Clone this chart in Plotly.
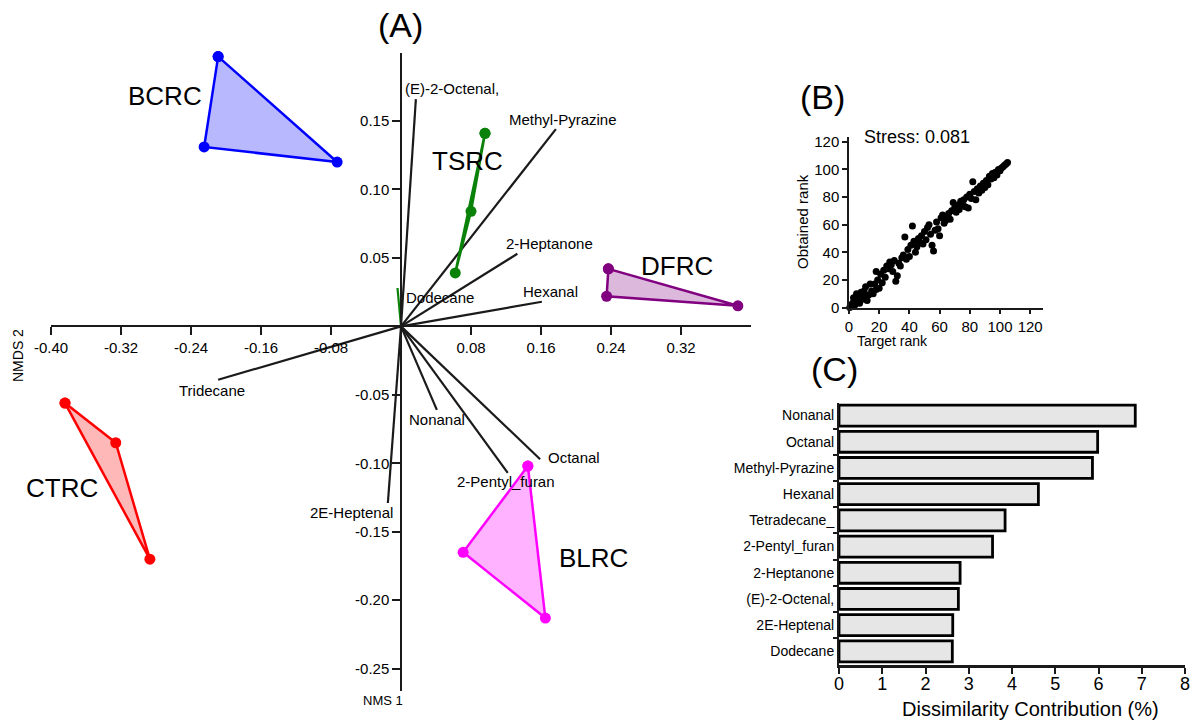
import plotly.graph_objects as go

W, H = 1193, 721
FONT = "Arial, Liberation Sans, sans-serif"
INK = "#1a1a1a"

# ---------------- (A) NMDS ordination ----------------
bcrc_x = [-0.209, -0.225, -0.073]
bcrc_y = [0.197, 0.131, 0.120]
tsrc_x = [0.096, 0.080, 0.062]
tsrc_y = [0.141, 0.084, 0.039]
dfrc_x = [0.237, 0.235, 0.385]
dfrc_y = [0.042, 0.022, 0.015]
ctrc_x = [-0.384, -0.326, -0.287]
ctrc_y = [-0.056, -0.085, -0.170]
blrc_x = [0.145, 0.071, 0.165]
blrc_y = [-0.102, -0.165, -0.213]

# volatile compound vectors (biplot arrows)
vec_names = ["(E)-2-Octenal,", "Methyl-Pyrazine", "2-Heptanone", "Hexanal", "Dodecane",
             "Tridecane", "Nonanal", "2-Pentyl_furan", "Octanal", "2E-Heptenal"]
vec_x = [0.017, 0.177, 0.133, 0.161, -0.004, -0.209, 0.041, 0.122, 0.159, -0.015]
vec_y = [0.166, 0.144, 0.053, 0.018, 0.028, -0.039, -0.061, -0.107, -0.097, -0.129]

x_ticks_a = [-0.40, -0.32, -0.24, -0.16, -0.08, 0.08, 0.16, 0.24, 0.32]
y_ticks_a = [0.15, 0.10, 0.05, -0.05, -0.10, -0.15, -0.20, -0.25]

# ---------------- (B) Shepard diagram ----------------
target_rank = [0.5, 1, 2, 3, 3, 4, 5, 6, 6, 7, 8, 9, 10, 10, 11, 12, 13, 14, 15, 16,
               17, 18, 18, 19, 20, 21, 22, 23, 24, 25, 26, 27, 28, 29, 30, 31, 32, 33, 34, 35,
               36, 37, 38, 39, 40, 41, 42, 43, 44, 45, 46, 47, 48, 49, 50, 51, 52, 53, 54, 55,
               56, 57, 58, 59, 60, 61, 62, 63, 64, 65, 66, 67, 68, 69, 70, 71, 72, 73, 74, 75,
               76, 77, 78, 79, 80, 81, 82, 83, 84, 85, 86, 87, 88, 89, 90, 91, 92, 93, 94, 95,
               96, 97, 98, 99, 100, 101, 102, 103, 104, 105]
obtained_rank = [0, 2, 1, 4, 7, 2, 10, 5, 8, 3, 11, 6, 12, 8, 15, 5, 9, 17, 12, 10,
                 17, 26, 13, 20, 14, 24, 18, 27, 22, 30, 28, 33, 31, 26, 34, 19, 23, 32, 30, 36,
                 38, 51, 35, 42, 37, 45, 59, 48, 40, 44, 50, 47, 52, 46, 55, 49, 58, 60, 53, 45,
                 41, 56, 62, 57, 52, 65, 67, 61, 63, 66, 68, 64, 70, 76, 72, 69, 74, 71, 77, 75,
                 78, 73, 80, 72, 82, 79, 91, 84, 78, 86, 83, 88, 85, 90, 87, 92, 89, 95, 93, 97,
                 94, 98, 96, 100, 99, 101, 102, 103, 104, 105]
b_ticks = [0, 20, 40, 60, 80, 100, 120]
stress = 0.081

# ---------------- (C) SIMPER contributions ----------------
compounds = ["Nonanal", "Octanal", "Methyl-Pyrazine", "Hexanal", "Tetradecane_",
             "2-Pentyl_furan", "2-Heptanone", "(E)-2-Octenal,", "2E-Heptenal", "Dodecane"]
contribution = [6.85, 5.98, 5.86, 4.61, 3.84, 3.55, 2.80, 2.76, 2.63, 2.62]
c_ticks = [0, 1, 2, 3, 4, 5, 6, 7, 8]


def fx(p):
    return p / W


def fy(p):
    return 1 - p / H


# group styling: outline colour, fill colour, label placement
group_style = [
    ("BCRC", bcrc_x, bcrc_y, "#0000ff", "rgba(0,0,255,0.28)", (-0.270, 0.168)),
    ("TSRC", tsrc_x, tsrc_y, "#0a820a", "rgba(10,130,10,0.25)", (0.076, 0.121)),
    ("DFRC", dfrc_x, dfrc_y, "#800080", "rgba(128,0,128,0.28)", (0.315, 0.044)),
    ("CTRC", ctrc_x, ctrc_y, "#ff0000", "rgba(255,0,0,0.28)", (-0.387, -0.118)),
    ("BLRC", blrc_x, blrc_y, "#ff00ff", "rgba(255,0,255,0.30)", (0.220, -0.169)),
]

# vector label placement: (xanchor, xshift px, yshift px)
vec_label_style = [
    ("left", -13, 11), ("center", 7, 10), ("center", 32, 10), ("center", 9, 10),
    ("left", 6, -9), ("center", -6, -11), ("center", 0, -10), ("center", -2, -9),
    ("left", 6, 2), ("right", 7, -9),
]
vec_colors = [INK, INK, INK, INK, "#0a820a", INK, INK, INK, INK, INK]

fig = go.Figure()

for name, vx, vy, col in zip(vec_names, vec_x, vec_y, vec_colors):
    fig.add_trace(go.Scatter(x=[0, vx], y=[0, vy], mode="lines",
                             line=dict(color=col, width=2.2),
                             hoverinfo="skip", xaxis="x", yaxis="y", cliponaxis=False))

for name, gx, gy, col, fill, _ in group_style:
    fig.add_trace(go.Scatter(x=gx + gx[:1], y=gy + gy[:1], mode="lines+markers",
                             fill="toself", fillcolor=fill,
                             line=dict(color=col, width=2.5),
                             marker=dict(color=col, size=11),
                             name=name, xaxis="x", yaxis="y", cliponaxis=False))

fig.add_trace(go.Scatter(x=target_rank, y=obtained_rank, mode="markers",
                         marker=dict(color="black", size=7),
                         xaxis="x2", yaxis="y2", cliponaxis=False))

fig.add_trace(go.Bar(x=contribution, y=compounds, orientation="h", width=0.8,
                     marker=dict(color="#e6e6e6", line=dict(color="black", width=2.8)),
                     xaxis="x3", yaxis="y3"))

# panel A geometry: axes cross at the origin
xdomA = [fx(51), fx(751)]
ydomA = [fy(690.6), fy(52.5)]
xrA = [-0.40, 0.40]
yrA = [-0.266, 0.20]
x_axis_pos = ydomA[0] + (0 - yrA[0]) / (yrA[1] - yrA[0]) * (ydomA[1] - ydomA[0])
y_axis_pos = xdomA[0] + (0 - xrA[0]) / (xrA[1] - xrA[0]) * (xdomA[1] - xdomA[0])

axis_common = dict(showgrid=False, zeroline=False, showline=True, automargin=False,
                   linecolor=INK, tickcolor=INK, ticks="outside")

annotations = []
for name, (xa, xs, ys), vx, vy in zip(vec_names, vec_label_style, vec_x, vec_y):
    annotations.append(dict(x=vx, y=vy, xref="x", yref="y", text=name, showarrow=False,
                            xanchor=xa, yanchor="middle", xshift=xs, yshift=ys,
                            font=dict(size=15, color="black", family=FONT)))
for name, gx, gy, col, fill, (lx, ly) in group_style:
    annotations.append(dict(x=lx, y=ly, xref="x", yref="y", text=name, showarrow=False,
                            xanchor="center", yanchor="middle",
                            font=dict(size=26, color="black", family=FONT)))


def paper_text(px, py, text, size, angle=0):
    return dict(x=fx(px), y=fy(py), xref="paper", yref="paper", text=text,
                showarrow=False, xanchor="center", yanchor="middle", textangle=angle,
                font=dict(size=size, color="black", family=FONT))


annotations += [
    paper_text(400, 25, "(A)", 34),
    paper_text(822, 97, "(B)", 34),
    paper_text(834, 369, "(C)", 34),
    paper_text(18, 356, "NMDS 2", 14, -90),
    paper_text(383, 700, "NMS 1", 13),
    paper_text(917, 137, f"Stress: {stress}", 18),
    paper_text(803, 222, "Obtained rank", 15, -90),
    paper_text(893, 341, "Target rank", 14),
    paper_text(1030, 709, "Dissimilarity Contribution (%)", 20),
]

fig.update_layout(
    width=W, height=H, margin=dict(l=0, r=0, t=0, b=0, autoexpand=False),
    paper_bgcolor="white", plot_bgcolor="white", showlegend=False,
    font=dict(family=FONT, color="black"),
    xaxis=dict(domain=xdomA, range=xrA, anchor="free", position=x_axis_pos,
               tickvals=x_ticks_a, ticktext=[f"{v:.2f}" for v in x_ticks_a],
               ticklen=8, tickwidth=1.5, linewidth=1.5,
               tickfont=dict(size=15, color="black"), **axis_common),
    yaxis=dict(domain=ydomA, range=yrA, anchor="free", position=y_axis_pos,
               tickvals=y_ticks_a, ticktext=[f"{v:.2f}" for v in y_ticks_a],
               ticklen=8, tickwidth=1.5, linewidth=1.5,
               tickfont=dict(size=15, color="black"), **axis_common),
    xaxis2=dict(domain=[fx(849), fx(1043)], range=[0, 128.5], anchor="y2",
                tickvals=b_ticks, ticklen=5, tickwidth=1.5, linewidth=1.5,
                tickfont=dict(size=15, color="black"), **axis_common),
    yaxis2=dict(domain=[fy(307.5), fy(137)], range=[0, 123.5], anchor="x2",
                tickvals=b_ticks, ticklen=5, tickwidth=1.5, linewidth=1.5,
                tickfont=dict(size=15, color="black"), **axis_common),
    xaxis3=dict(domain=[fx(839), fx(1185)], range=[0, 8], anchor="y3",
                tickvals=c_ticks, ticklen=6, tickwidth=2, linewidth=2.5,
                ticklabelstandoff=-5,
                tickfont=dict(size=18, color="black"), **axis_common),
    yaxis3=dict(domain=[fy(665), fy(403)], range=[9.52, -0.48], anchor="x3",
                type="category", categoryorder="array", categoryarray=compounds,
                tickson="boundaries", ticklen=4, tickwidth=2, linewidth=2,
                tickfont=dict(size=14, color="black"), **axis_common),
    annotations=annotations,
)

fig.write_html("out.html")
